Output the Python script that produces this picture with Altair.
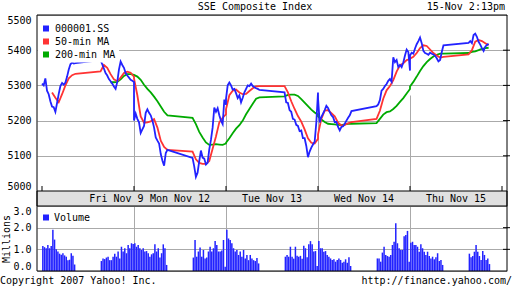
import altair as alt
import pandas as pd

FONT = "DejaVu Sans Mono"

# ---------------- data ----------------
day_names = ["Fri Nov  9", "Mon Nov 12", "Tue Nov 13", "Wed Nov 14", "Thu Nov 15"]
day_label_minute = [267, 495, 825, 1155, 1485]          # trading-clock minutes after Fri 9:30
day_start_minute = [0, 330, 660, 990, 1320, 1650]       # each day 9:30-15:00 = 330 min
session_offsets = [0, 210]                              # 9:30 and 13:00
price_ticks = [5000, 5100, 5200, 5300, 5400, 5500]
volume_ticks = [0.0, 1.0, 2.0, 3.0]

series_names = ["000001.SS", "50-min MA", "200-min MA"]
series_colors = ["#2222ff", "#ff3333", "#00aa00"]

# index price, 6-minute samples per session (Fri AM, Fri PM, Mon AM, ... Thu PM)
blue_fri_am = [5305, 5300, 5320, 5285, 5275, 5255, 5240, 5238, 5225, 5250, 5276, 5298, 5307, 5302, 5308, 5325, 5345, 5360, 5365, 5362, 5363]
blue_fri_pm = [5372, 5360, 5348, 5335, 5328, 5318, 5312, 5305, 5297, 5290, 5310, 5345, 5368, 5358, 5350, 5335, 5328, 5322, 5316, 5313, 5310]
blue_mon_am = [5200, 5220, 5205, 5195, 5165, 5175, 5185, 5222, 5232, 5222, 5215, 5200, 5180, 5152, 5143, 5135, 5105, 5086, 5072, 5108, 5117]
blue_mon_pm = [5094, 5070, 5040, 5052, 5085, 5115, 5095, 5092, 5075, 5080, 5118, 5145, 5180, 5237, 5225, 5235, 5215, 5200, 5190, 5260, 5245]
blue_tue_am = [5262, 5300, 5308, 5300, 5288, 5290, 5278, 5264, 5272, 5252, 5265, 5280, 5290, 5300, 5298, 5305, 5298, 5295, 5292, 5290, 5287]
blue_tue_pm = [5280, 5252, 5250, 5230, 5225, 5205, 5203, 5188, 5185, 5170, 5172, 5150, 5150, 5128, 5096, 5112, 5123, 5132, 5140, 5195, 5280]
blue_wed_am = [5265, 5195, 5210, 5220, 5230, 5242, 5236, 5225, 5215, 5210, 5196, 5196, 5182, 5172, 5182, 5184, 5191, 5200, 5208, 5215, 5227]
blue_wed_pm = [5241, 5246, 5258, 5285, 5290, 5298, 5304, 5313, 5318, 5310, 5380, 5366, 5372, 5352, 5358, 5352, 5365, 5385, 5402, 5395, 5342]
blue_thu_am = [5385, 5393, 5390, 5405, 5417, 5426, 5436, 5420, 5398, 5392, 5390, 5387, 5393, 5390, 5388, 5384, 5377, 5368, 5372, 5395, 5414]
blue_thu_pm = [5421, 5426, 5420, 5443, 5447, 5438, 5424, 5416, 5406, 5398, 5410, 5415, 5418]

# 50-min moving average, 12-minute samples per session
red_fri_am = [None, None, None, 5280, 5265, 5252, 5275, 5300, 5320, 5329, 5333]
red_fri_pm = [5340, 5358, 5350, 5332, 5317, 5312, 5322, 5335, 5339, 5336, 5325]
red_mon_am = [5320, 5272, 5212, 5194, 5195, 5198, 5204, 5180, 5143, 5125, 5117]
red_mon_pm = [5112, 5090, 5080, 5077, 5077, 5085, 5120, 5155, 5195, 5208, 5218]
red_tue_am = [5232, 5272, 5285, 5288, 5280, 5275, 5276, 5284, 5292, 5297, 5298]
red_tue_pm = [5298, 5280, 5255, 5233, 5213, 5197, 5175, 5150, 5137, 5135, 5148]
red_wed_am = [5160, 5205, 5228, 5230, 5221, 5212, 5194, 5186, 5188, 5192, 5196]
red_wed_pm = [5205, 5228, 5262, 5286, 5298, 5315, 5339, 5357, 5363, 5372, 5375]
red_thu_am = [5376, 5381, 5392, 5406, 5414, 5412, 5402, 5392, 5385, 5379, 5381]
red_thu_pm = [5388, 5400, 5424, 5429, 5426, 5420, 5414]

# 200-min moving average, 12-minute samples per session
green_fri_am = [None] * 11
green_fri_pm = [None, None, None, 5309, 5309, 5310, 5317, 5327, 5332, 5332, 5330]
green_mon_am = [5330, 5325, 5316, 5302, 5290, 5280, 5268, 5255, 5240, 5225, 5215]
green_mon_pm = [5208, 5190, 5168, 5152, 5138, 5131, 5132, 5133, 5132, 5131, 5135]
green_tue_am = [5137, 5150, 5164, 5177, 5187, 5200, 5218, 5233, 5248, 5262, 5266]
green_tue_pm = [5269, 5273, 5274, 5274, 5270, 5261, 5251, 5241, 5231, 5223, 5217]
green_wed_am = [5212, 5203, 5196, 5191, 5190, 5189, 5188, 5187, 5189, 5191, 5191]
green_wed_pm = [5193, 5205, 5217, 5224, 5226, 5233, 5242, 5253, 5264, 5277, 5290]
green_thu_am = [5297, 5310, 5325, 5341, 5355, 5366, 5375, 5382, 5387, 5390, 5390]
green_thu_pm = [5392, 5395, 5397, 5400, 5404, 5406, 5407]

# volume (millions), 6-minute bars per session
vol_fri_am = [1.15, 1.1, 1.05, 1.2, 1.05, 1.15, 1.9, 1.45, 1.0, 0.9, 0.8, 0.75, 0.82, 0.72, 0.66, 0.5, 0.52, 0.82, 0.7, 0.3]
vol_fri_pm = [0.46, 0.58, 0.55, 0.62, 0.66, 0.5, 0.5, 0.66, 0.8, 0.66, 0.9, 0.58, 1.12, 0.9, 1.05, 0.82, 1.2, 1.05, 1.28, 1.25]
vol_mon_am = [1.28, 1.12, 1.2, 1.05, 0.97, 1.05, 0.9, 0.92, 0.82, 0.66, 0.77, 0.82, 1.23, 0.9, 1.05, 0.62, 0.82, 1.23, 1.05, 0.28]
vol_mon_pm = [0.62, 1.43, 0.66, 0.9, 1.08, 0.66, 0.97, 0.58, 0.62, 0.9, 1.12, 0.9, 1.05, 1.38, 1.2, 0.9, 0.9, 0.95, 1.43, 0.2]
vol_tue_am = [1.9, 1.5, 1.43, 1.28, 1.05, 0.9, 0.97, 0.74, 0.9, 0.66, 0.97, 0.58, 0.74, 0.5, 0.74, 0.58, 0.5, 0.46, 0.6, 0.35]
vol_tue_pm = [0.66, 0.74, 0.66, 1.12, 0.66, 0.57, 1.12, 0.7, 0.66, 0.7, 0.57, 1.17, 1.05, 0.63, 1.23, 1.38, 1.23, 0.9, 0.92, 0.23]
vol_wed_am = [1.38, 1.05, 1.05, 0.89, 0.92, 0.74, 0.66, 0.58, 0.51, 0.54, 0.43, 0.51, 0.58, 0.51, 0.38, 0.43, 0.54, 0.38, 0.63, 0.23]
vol_wed_pm = [0.58, 0.58, 0.43, 0.85, 1.12, 0.74, 0.69, 0.66, 0.74, 1.2, 1.35, 2.2, 1.28, 1.05, 0.97, 0.97, 1.6, 1.66, 1.85, 0.43]
vol_thu_am = [1.3, 1.35, 1.2, 1.2, 1.12, 0.89, 1.23, 1.05, 0.89, 0.74, 0.89, 0.69, 0.58, 0.66, 0.54, 0.63, 0.82, 0.46, 0.51, 0.28]
vol_thu_pm = [0.8, 0.63, 0.69, 0.89, 1.2, 0.89, 0.69, 0.51, 0.92, 0.74, 0.51, 0.58, 0.32]

blue = [blue_fri_am, blue_fri_pm, blue_mon_am, blue_mon_pm, blue_tue_am, blue_tue_pm, blue_wed_am, blue_wed_pm, blue_thu_am, blue_thu_pm]
red = [red_fri_am, red_fri_pm, red_mon_am, red_mon_pm, red_tue_am, red_tue_pm, red_wed_am, red_wed_pm, red_thu_am, red_thu_pm]
green = [green_fri_am, green_fri_pm, green_mon_am, green_mon_pm, green_tue_am, green_tue_pm, green_wed_am, green_wed_pm, green_thu_am, green_thu_pm]
volume = [vol_fri_am, vol_fri_pm, vol_mon_am, vol_mon_pm, vol_tue_am, vol_tue_pm, vol_wed_am, vol_wed_pm, vol_thu_am, vol_thu_pm]


def session_start(s):
    return 330 * (s // 2) + session_offsets[s % 2]


def line_frame(name, sessions, step):
    rows = []
    i = 0
    for s, vals in enumerate(sessions):
        for k, v in enumerate(vals):
            if v is None:
                continue
            rows.append({"series": name, "t": session_start(s) + step * k, "v": v, "i": i})
            i += 1
    return pd.DataFrame(rows)


blue_df = line_frame(series_names[0], blue, 6)
red_df = line_frame(series_names[1], red, 12)
green_df = line_frame(series_names[2], green, 12)

vol_rows = []
for s, vals in enumerate(volume):
    for k, v in enumerate(vals):
        vol_rows.append({"name": "Volume", "t": session_start(s) + 3 + 6 * k, "vol": v})
vol_df = pd.DataFrame(vol_rows)

labels_df = pd.DataFrame({"t": day_label_minute, "label": day_names})
bounds_df = pd.DataFrame({"t": day_start_minute})
price_tick_df = pd.DataFrame({"p": price_ticks[1:-1]})
vol_tick_df = pd.DataFrame({"vol": volume_ticks[1:-1]})

# ---------------- scales / axes ----------------
xscale = alt.Scale(domain=[0, 1650], nice=False, zero=False)
xaxis = alt.Axis(values=day_start_minute[1:-1], grid=True, labels=False, ticks=False,
                 domain=False, title=None)

yprice = alt.Scale(domain=[5000, 5500], range=[176, 0], nice=False, zero=False)
yaxis_price = alt.Axis(values=price_ticks, grid=True, ticks=False, domain=False,
                       labelFlush=True, labelPadding=6, title=None, orient="left", format="d")

yvol = alt.Scale(domain=[0, 3], range=[256, 191], nice=False)
yaxis_vol = alt.Axis(values=volume_ticks, grid=True, ticks=False, domain=False,
                     labelFlush=True, labelPadding=6, title="Millions", orient="left",
                     format=".1f", titlePadding=1)

price_legend = alt.Legend(title=None, orient="none", legendX=1, legendY=5.5,
                          fillColor="white", padding=3, symbolType="square",
                          symbolSize=9, symbolStrokeWidth=3, labelFont=FONT,
                          labelFontSize=10, labelColor="black", labelOffset=4,
                          rowPadding=3, clipHeight=10, symbolOpacity=1)
vol_legend = alt.Legend(title=None, orient="none", legendX=1, legendY=194.5,
                        fillColor="white", padding=3, symbolType="square",
                        symbolSize=36, labelFont=FONT, labelFontSize=10,
                        labelColor="black", labelOffset=3, clipHeight=10)

color_price = alt.Scale(domain=series_names, range=series_colors)


def price_line(df):
    return alt.Chart(df).mark_line(strokeWidth=1.8).encode(
        x=alt.X("t:Q", scale=xscale, axis=xaxis),
        y=alt.Y("v:Q", scale=yprice, axis=yaxis_price),
        color=alt.Color("series:N", scale=color_price, legend=price_legend),
        order=alt.Order("i:Q"),
    )


price_right_ticks = alt.Chart(price_tick_df).mark_rule(color="black").encode(
    y=alt.Y("p:Q", scale=yprice, axis=yaxis_price), x=alt.value(466), x2=alt.value(473)
)

price = alt.layer(price_line(green_df), price_line(red_df), price_line(blue_df),
                  price_right_ticks)

vol_bars = alt.Chart(vol_df).mark_bar(size=1.5).encode(
    x=alt.X("t:Q", scale=xscale, axis=xaxis),
    y=alt.Y("vol:Q", scale=yvol, axis=yaxis_vol),
    color=alt.Color("name:N", scale=alt.Scale(domain=["Volume"], range=["#2222ff"]),
                    legend=vol_legend),
)
vol_right_ticks = alt.Chart(vol_tick_df).mark_rule(color="black").encode(
    y=alt.Y("vol:Q", scale=yvol, axis=yaxis_vol), x=alt.value(466), x2=alt.value(473)
)
vol = alt.layer(vol_bars, vol_right_ticks)

one = pd.DataFrame({"a": [0]})
band = alt.Chart(one).mark_rect(fill="#e0e0e0", stroke="black", strokeWidth=1).encode(
    x=alt.value(0), x2=alt.value(470), y=alt.value(176), y2=alt.value(191)
)

frame = alt.Chart(one).mark_rect(filled=False, stroke="black", strokeWidth=1).encode(
    x=alt.value(0), x2=alt.value(470), y=alt.value(0), y2=alt.value(256)
)

day_ticks = alt.Chart(bounds_df).mark_rule(color="black").encode(
    x=alt.X("t:Q", scale=xscale, axis=xaxis), y=alt.value(171), y2=alt.value(176)
)

day_labels = alt.Chart(labels_df).mark_text(font=FONT, fontSize=10, baseline="middle",
                                            align="center", color="black").encode(
    x=alt.X("t:Q", scale=xscale, axis=xaxis), y=alt.value(184), text="label:N"
)


def note(txt, x, y, align):
    return alt.Chart(pd.DataFrame({"txt": [txt]})).mark_text(
        font=FONT, fontSize=10, align=align, baseline="alphabetic", color="black"
    ).encode(x=alt.value(x), y=alt.value(y), text="txt:N")


title = note("SSE Composite Index", 218, -5, "center")
stamp = note("15-Nov 2:13pm", 468, -5, "right")
copy = note("Copyright 2007 Yahoo! Inc.", -37, 269, "left")
url = note("http://finance.yahoo.com/", 475, 269, "right")

chart = alt.layer(
    price, vol, band, day_ticks, day_labels, frame, title, stamp, copy, url
).resolve_scale(
    y="independent", color="independent"
).properties(
    width=470, height=256,
    padding={"left": 37, "top": 15, "right": 5, "bottom": 17},
    autosize=alt.AutoSizeParams(type="none"),
    background="white",
).configure_view(
    stroke=None
).configure_axis(
    labelFont=FONT, labelFontSize=10, labelColor="black",
    titleFont=FONT, titleFontSize=10, titleFontWeight="normal", titleColor="black",
    gridColor="#aaaaaa", gridWidth=1, gridOpacity=1,
)

chart.save("out.html", embed_options={"renderer": "svg", "actions": False})
